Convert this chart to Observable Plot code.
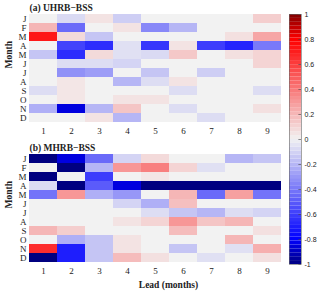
<!DOCTYPE html>
<html>
<head>
<meta charset="utf-8">
<script src="https://cdn.jsdelivr.net/npm/d3@7"></script>
<script src="https://cdn.jsdelivr.net/npm/@observablehq/plot@0.6"></script>
<style>
  body { margin: 0; background: #fff; }
  #fig { position: relative; width: 320px; height: 294px; }
  #fig > div, #fig > svg { position: absolute; }
</style>
</head>
<body>
<div id="fig"></div>
<script>
const monthLabels = ["J","F","M","A","M","J","J","A","S","O","N","D"];
const leads = [1,2,3,4,5,6,7,8,9];
const colorbarTicks = [-1,-0.8,-0.6,-0.4,-0.2,0,0.2,0.4,0.6,0.8,1];

// (a) UHRB-BSS, rows = months J..D, columns = lead 1..9
const uhrb = [
  [0, -0.08, 0.05, -0.12, 0, 0, 0, 0, 0.12],
  [0.2, -0.45, 0, 0.05, -0.35, -0.2, 0, 0, 0],
  [0.72, 0.08, -0.15, 0, 0, 0, 0, 0.06, 0.25],
  [0, -0.58, -0.65, -0.06, -0.62, 0.05, -0.6, -0.68, -0.4],
  [-0.15, -0.65, 0.08, -0.06, -0.08, 0.14, 0, 0.06, 0.1],
  [0, -0.07, -0.07, -0.1, 0, 0, 0, 0, 0.1],
  [0, -0.32, -0.28, 0, -0.15, 0, -0.12, 0, 0],
  [0, 0.04, 0, -0.2, -0.07, 0.05, 0, 0, 0],
  [-0.07, 0.04, 0, 0, 0, -0.07, 0, 0, -0.07],
  [0, 0.04, 0, 0.05, 0.05, 0, 0, 0, 0],
  [-0.22, -0.85, -0.2, 0.15, 0, -0.07, 0, 0, 0.06],
  [0, 0, 0.05, -0.2, 0, 0, -0.07, 0, 0]
];

// (b) MHRB-BSS
const mhrb = [
  [-1, -0.85, -0.45, -0.1, 0.08, 0, 0, -0.2, -0.15],
  [0, -1, -0.2, 0.3, 0.38, 0.1, -0.06, 0, 0],
  [-1, 0, -0.6, 0, 0.04, 0, 0, 0, 0],
  [-0.07, -1, -0.5, -0.85, -1, -1, -1, -1, -1],
  [-0.42, 0.3, -0.22, -0.3, 0, 0.2, -0.45, 0.27, -0.42],
  [0, 0, 0, -0.1, -0.22, 0.17, 0, 0, 0],
  [0, 0, 0, 0, -0.07, -0.15, -0.2, -0.07, -0.1],
  [0, 0, 0, 0.05, 0.1, 0.3, 0.15, 0.2, 0],
  [0.2, 0.12, 0, 0, 0, 0.18, 0, 0, 0.06],
  [0, -0.22, -0.15, 0.05, 0, 0, 0, 0.2, 0],
  [0.65, -0.7, -0.15, 0.05, 0, -0.15, 0, -0.06, 0.22],
  [-1, -0.7, -0.15, 0.18, 0.06, 0, -0.06, 0, 0.06]
];

const colorOpts = {
  type: "linear",
  domain: [-1, -0.8, 0, 0.8, 1],
  range: ["#000080", "#0000ff", "#f2f2f2", "#ff0000", "#800000"],
  interpolate: "rgb",
  clamp: true
};

function panel(values, title, withXLabel) {
  const data = [];
  values.forEach((row, i) => row.forEach((v, j) => data.push({m: i, lead: leads[j], v})));
  const marks = [
    Plot.cell(data, {x: "lead", y: "m", fill: "v", inset: 0}),
    Plot.text([title], {frameAnchor: "top-left", dy: -2, lineAnchor: "bottom", textAnchor: "start",
      fontWeight: "bold", fontSize: 9.5}),
    Plot.text(["Month"], {frameAnchor: "left", rotate: -90, dx: -21, fontWeight: "bold", fontSize: 9.5})
  ];
  if (withXLabel) {
    marks.push(Plot.text(["Lead (months)"], {frameAnchor: "bottom", dx: 13, dy: 23,
      fontWeight: "bold", fontSize: 9.5}));
  }
  return Plot.plot({
    width: 285,
    height: withXLabel ? 154 : 140,
    marginLeft: 29, marginRight: 4, marginTop: 12,
    marginBottom: withXLabel ? 30 : 16,
    style: {fontFamily: "Liberation Serif", fontSize: "9px", background: "transparent", color: "#222"},
    x: {domain: leads, padding: 0, label: null, tickSize: 0, tickPadding: 3},
    y: {domain: d3.range(12), padding: 0, label: null, tickSize: 0, tickPadding: 3,
        tickFormat: i => monthLabels[i]},
    color: colorOpts,
    marks
  });
}

const fig = document.getElementById("fig");
const a = panel(uhrb, "(a) UHRB\u2212BSS", false);
a.style.left = "0px"; a.style.top = "0px";
fig.appendChild(a);
const b = panel(mhrb, "(b) MHRB\u2212BSS", true);
b.style.left = "0px"; b.style.top = "140px";
fig.appendChild(b);

const bins = d3.range(-1, 1, 1 / 32);
const cb = Plot.plot({
  width: 36, height: 294,
  marginLeft: 5, marginRight: 19, marginTop: 14, marginBottom: 30,
  style: {fontFamily: "Liberation Sans", fontSize: "7px", background: "transparent", color: "#222"},
  x: {domain: [0, 1], axis: null},
  y: {domain: [-1, 1], axis: "right", ticks: colorbarTicks, tickSize: 0, tickPadding: 3,
      label: null, tickFormat: d => String(d)},
  color: colorOpts,
  marks: [
    Plot.rect(bins, {x1: 0, x2: 1, y1: d => d, y2: d => d + 1 / 32, fill: d => d + 1 / 64}),
    Plot.ruleY(colorbarTicks, {x1: 0.78, x2: 1, stroke: "#444", strokeWidth: 0.6}),
    Plot.frame({stroke: "#666", strokeWidth: 0.6})
  ]
});
cb.style.left = "284px"; cb.style.top = "0px";
fig.appendChild(cb);
</script>
</body>
</html>
